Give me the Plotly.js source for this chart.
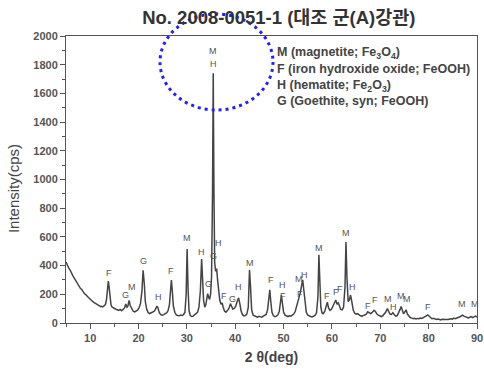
<!DOCTYPE html>
<html>
<head>
<meta charset="utf-8">
<script src="https://cdn.plot.ly/plotly-3.0.1.min.js"></script>
<style>html,body{margin:0;padding:0;background:#fff;}#chart{width:484px;height:371px;}</style>
</head>
<body>
<div id="chart"></div>
<script>
const twoTheta = [
5.0,5.2,5.4,5.6,5.8,6.0,6.2,6.4,6.6,6.8,7.0,7.2,7.4,7.6,7.8,8.0,8.2,8.4,8.6,8.8,9.0,9.2,9.4,9.6,9.8,10.0,10.2,10.4,10.6,10.8,11.0,11.2,11.4,11.6,11.8,12.0,12.2,12.4,12.6,12.8,13.0,13.2,13.4,13.6,13.75,13.9,14.1,14.3,14.5,14.8,15.0,15.3,15.6,15.9,16.2,16.5,16.8,17.1,17.35,17.6,17.8,18.05,18.3,18.6,18.9,19.2,19.5,19.8,20.1,20.4,20.7,20.95,21.2,21.4,21.7,22.0,22.3,22.6,22.9,23.2,23.5,23.8,24.0,24.3,24.6,24.9,25.2,25.5,25.8,26.1,26.4,26.65,26.8,27.0,27.2,27.5,27.8,28.1,28.4,28.7,29.0,29.3,29.6,29.85,30.05,30.25,30.45,30.7,31.0,31.3,31.6,31.9,32.2,32.5,32.8,33.05,33.25,33.45,33.7,33.9,34.1,34.3,34.5,34.7,34.9,35.1,35.3,35.45,35.6,35.75,35.95,36.15,36.35,36.55,36.8,37.05,37.3,37.5,37.8,38.1,38.4,38.7,39.0,39.2,39.5,39.8,40.1,40.4,40.7,40.95,41.2,41.5,41.8,42.1,42.4,42.7,42.95,43.15,43.4,43.7,44.0,44.3,44.6,44.9,45.2,45.5,45.8,46.1,46.4,46.7,46.95,47.15,47.35,47.6,47.9,48.2,48.5,48.8,49.1,49.35,49.55,49.75,50.0,50.3,50.6,50.9,51.2,51.5,51.8,52.1,52.4,52.7,53.0,53.2,53.45,53.7,53.95,54.2,54.45,54.7,55.0,55.3,55.6,55.9,56.2,56.5,56.8,57.1,57.3,57.5,57.7,57.95,58.2,58.5,58.8,59.05,59.3,59.6,59.9,60.2,60.5,60.8,61.05,61.3,61.55,61.8,62.1,62.4,62.7,62.9,63.1,63.35,63.6,63.85,64.1,64.4,64.7,65.0,65.3,65.6,65.9,66.2,66.5,66.8,67.1,67.4,67.7,68.0,68.3,68.7,69.0,69.3,69.6,69.9,70.2,70.5,70.8,71.1,71.45,71.7,72.0,72.3,72.6,72.9,73.2,73.5,73.8,74.1,74.3,74.55,74.8,75.1,75.35,75.6,75.9,76.2,76.5,76.8,77.1,77.4,77.7,78.0,78.3,78.6,78.9,79.2,79.5,79.8,80.1,80.4,80.7,81.0,81.3,81.6,81.9,82.2,82.5,82.8,83.1,83.4,83.7,84.0,84.3,84.6,84.9,85.2,85.5,85.8,86.1,86.4,86.7,87.0,87.3,87.6,87.9,88.2,88.5,88.8,89.1,89.4,89.7,90.0
];
const intensity = [
425,405,395,380,372,352,345,330,318,305,296,282,276,262,255,240,236,222,218,205,200,192,183,180,170,166,160,152,150,142,138,133,128,126,120,118,114,116,112,118,122,135,170,240,292,255,170,128,112,104,98,96,92,88,94,86,95,105,132,110,118,158,120,96,82,78,84,90,105,135,220,368,270,150,95,72,66,70,74,80,95,118,108,72,58,54,58,62,70,85,130,240,300,215,120,75,56,52,50,55,52,58,75,200,515,230,85,52,45,48,55,62,75,110,230,445,300,160,110,125,165,205,180,165,200,320,900,1740,900,420,360,380,300,230,160,130,140,110,82,75,88,102,135,120,98,102,118,150,175,135,85,58,50,52,62,110,370,260,90,55,48,44,40,46,42,40,48,52,60,95,200,232,150,75,50,44,48,55,80,150,195,140,75,55,48,45,50,48,55,62,80,115,165,180,210,255,300,225,120,75,55,48,45,42,48,52,70,180,475,300,110,70,65,80,110,145,105,88,95,115,130,160,130,140,120,95,92,110,250,565,320,150,160,195,150,90,68,62,65,55,50,48,52,55,62,78,70,65,72,88,80,62,55,48,45,50,62,75,100,80,62,60,72,58,48,52,70,95,115,80,65,78,92,62,45,38,34,30,33,28,32,30,35,32,38,42,50,56,45,36,30,33,28,25,28,24,22,26,24,22,25,24,28,30,27,34,30,36,38,42,48,55,48,42,38,35,40,45,38,42,48,40
];

// peak phase labels
const peakLabels = ["F","G","M","G","H","F","M","H","G","G","H","F","G","H","M","F","H","F","M","H","F","M","F","F","F","M","H","F","F","M","H","M","M","F","M","M","M","H"];
const peakX =     [13.8,17.3,18.6,21.0,24.1,26.8,30.1,33.0,34.4,35.6,36.6,37.6,39.5,40.7,43.1,47.3,49.8,49.8,53.2,54.4,53.3,57.4,59.0,60.8,61.6,62.9,64.2,67.5,69.0,71.6,72.7,74.2,75.6,79.8,87.0,89.5,35.5,35.5];
const peakY =     [345,195,250,435,180,365,595,495,270,465,555,190,165,250,420,300,265,190,310,335,205,520,190,215,235,630,250,120,160,165,115,185,170,112,135,135,1895,1805];

const legendLines = [
  "M (magnetite; Fe<sub>3</sub>O<sub>4</sub>)",
  "F (iron hydroxide oxide; FeOOH)",
  "H (hematite; Fe<sub>2</sub>O<sub>3</sub>)",
  "G (Goethite, syn; FeOOH)"
];
const legendY = [0.941, 0.884, 0.826, 0.772];

const titleText = "No. 2008-0051-1 (대조 군(A)강관)";
const xTitle = "2 θ(deg)";
const yTitle = "Intensity(cps)";

const FONT = "Liberation Sans, Arial, Noto Sans CJK KR, sans-serif";

const annotations = [];
for (let i = 0; i < peakLabels.length; i++) {
  annotations.push({x: peakX[i], y: peakY[i], xref: 'x', yref: 'y', text: peakLabels[i], showarrow: false,
    font: {family: FONT, size: 9, color: '#555'}});
}
for (let i = 0; i < legendLines.length; i++) {
  annotations.push({x: 0.508, y: legendY[i], xref: 'paper', yref: 'paper', xanchor: 'left', yanchor: 'middle',
    text: legendLines[i], showarrow: false, font: {family: FONT, size: 12.5, color: '#444', weight: 'bold'}});
}
annotations.push({x: -0.129, y: 0.47, xref: 'paper', yref: 'paper', xanchor: 'center', yanchor: 'middle',
  text: yTitle, textangle: -90, showarrow: false, font: {family: FONT, size: 15, color: '#444'}});

const trace = {
  x: twoTheta, y: intensity, type: 'scatter', mode: 'lines',
  line: {color: '#444', width: 1.5}, hoverinfo: 'skip'
};

const layout = {
  width: 484, height: 371,
  margin: {l: 66, r: 7, t: 36, b: 48},
  paper_bgcolor: '#fff', plot_bgcolor: '#fff',
  showlegend: false,
  title: {text: titleText, x: 0.576, xanchor: 'center', y: 0.952, yanchor: 'middle', xref: 'container', yref: 'container',
    font: {family: FONT, size: 18.5, color: '#333', weight: 'bold'}},
  xaxis: {
    range: [5, 90], tickmode: 'linear', tick0: 10, dtick: 10,
    ticks: 'outside', ticklen: 5, tickwidth: 1, tickcolor: '#555',
    minor: {ticks: 'outside', ticklen: 3, dtick: 5, tick0: 0, tickcolor: '#555'},
    showgrid: false, zeroline: false, showline: true, linecolor: '#555', linewidth: 1, mirror: true,
    tickfont: {family: FONT, size: 11, color: '#555', weight: 'bold'},
    title: {text: xTitle, standoff: 8, font: {family: FONT, size: 14, color: '#444', weight: 'bold'}}
  },
  yaxis: {
    range: [0, 2000], tickmode: 'linear', tick0: 0, dtick: 200,
    ticks: 'outside', ticklen: 5, tickwidth: 1, tickcolor: '#555',
    minor: {ticks: 'outside', ticklen: 3, dtick: 100, tick0: 0, tickcolor: '#555'},
    showgrid: false, zeroline: false, showline: true, linecolor: '#555', linewidth: 1, mirror: true,
    tickfont: {family: FONT, size: 11, color: '#555', weight: 'bold'}
  },
  annotations: annotations,
  shapes: [{
    type: 'circle', xref: 'paper', yref: 'paper', layer: 'above',
    x0: 0.2287, x1: 0.5036, y0: 0.742, y1: 1.0767,
    line: {color: '#1f1fff', width: 3, dash: '3px,4px'}
  }]
};

Plotly.newPlot('chart', [trace], layout, {staticPlot: true, displayModeBar: false});
</script>
</body>
</html>
